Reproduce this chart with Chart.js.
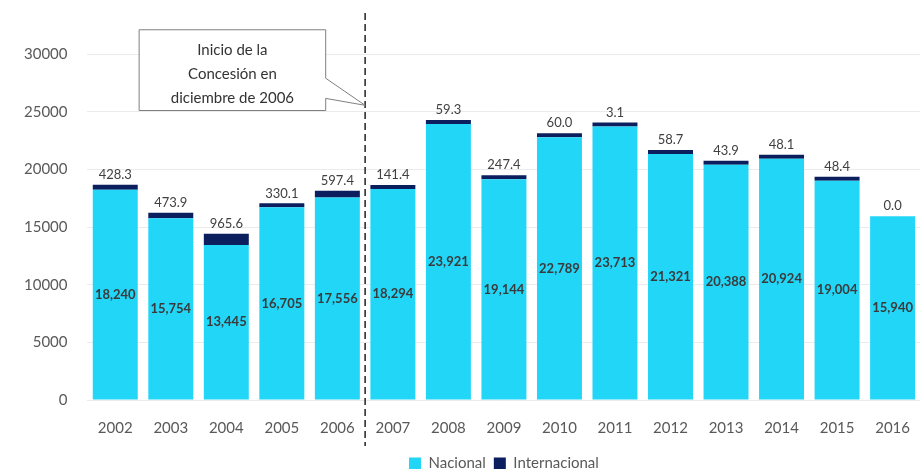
<!DOCTYPE html>
<html>
<head>
<meta charset="utf-8">
<script src="https://cdn.jsdelivr.net/npm/chart.js@4"></script>
<style>
  html, body { margin: 0; padding: 0; background: #fff; }
  #wrap { width: 921px; height: 469px; }
</style>
</head>
<body>
<div id="wrap"><canvas id="chart"></canvas></div>
<script>
/*------ DATA ------*/
const years = ["2002", "2003", "2004", "2005", "2006", "2007", "2008", "2009", "2010", "2011", "2012", "2013", "2014", "2015", "2016"];
const nacional = [18240, 15754, 13445, 16705, 17556, 18294, 23921, 19144, 22789, 23713, 21321, 20388, 20924, 19004, 15940];
const internacional = [428.3, 473.9, 965.6, 330.1, 597.4, 141.4, 59.3, 247.4, 60.0, 3.1, 58.7, 43.9, 48.1, 48.4, 0.0];
const yTicks = [0, 5000, 10000, 15000, 20000, 25000, 30000];

const noteLines = ["Inicio de la", "Concesión en", "diciembre de 2006"];
// callout box in axis units (category index / value)
const noteBox = { left: 0.43, right: 3.79, top: 32100, bottom: 25100, tipIndex: 4.5, tipValue: 25550 };

const fontFam = "Lato, 'Open Sans', sans-serif";

/*------ LABELS + ANNOTATION PLUGIN ------*/
const extras = {
  id: "extras",
  afterDatasetsDraw(chart) {
    const ctx = chart.ctx;
    const x = chart.scales.x, y = chart.scales.y;
    const area = chart.chartArea;

    // value labels
    const m0 = chart.getDatasetMeta(0);
    ctx.save();
    ctx.textAlign = "center";
    ctx.textBaseline = "middle";
    m0.data.forEach((bar, i) => {
      ctx.font = "bold 13px " + fontFam;
      ctx.fillStyle = "#3a3a3a";
      ctx.fillText(nacional[i].toLocaleString("en-US"), bar.x, (bar.y + bar.base) / 2);
      let top = y.getPixelForValue(nacional[i] + internacional[i]);
      if (internacional[i] > 0) top = Math.min(top, bar.y - 4);
      ctx.font = "13px " + fontFam;
      ctx.fillStyle = "#404040";
      ctx.fillText(internacional[i].toFixed(1), bar.x, top - 10);
    });
    ctx.restore();

    // dashed vertical line between 2006 and 2007
    const lx = x.getPixelForValue(noteBox.tipIndex);
    ctx.save();
    ctx.strokeStyle = "#222";
    ctx.lineWidth = 1.5;
    ctx.setLineDash([7, 4]);
    ctx.beginPath();
    ctx.moveTo(lx, area.top - 41);
    ctx.lineTo(lx, area.bottom + 46);
    ctx.stroke();
    ctx.restore();

    // callout box
    const bl = x.getPixelForValue(noteBox.left), br = x.getPixelForValue(noteBox.right);
    const bt = y.getPixelForValue(noteBox.top), bb = y.getPixelForValue(noteBox.bottom);
    const tx = lx, ty = y.getPixelForValue(noteBox.tipValue);
    const h = bb - bt;
    ctx.save();
    ctx.strokeStyle = "#7f7f7f";
    ctx.lineWidth = 1;
    ctx.fillStyle = "#fff";
    ctx.beginPath();
    ctx.moveTo(bl, bt);
    ctx.lineTo(br, bt);
    ctx.lineTo(br, bt + h * 0.6);
    ctx.lineTo(tx, ty);
    ctx.lineTo(br, bt + h * 0.85);
    ctx.lineTo(br, bb);
    ctx.lineTo(bl, bb);
    ctx.closePath();
    ctx.fill();
    ctx.stroke();
    ctx.fillStyle = "#333";
    ctx.font = "15px " + fontFam;
    ctx.textAlign = "center";
    ctx.textBaseline = "middle";
    const cx = (bl + br) / 2;
    noteLines.forEach((t, i) => {
      ctx.fillText(t, cx, bt + h * (0.25 + i * 0.3));
    });
    ctx.restore();
  }
};

/*------ CHART ------*/
const chartCtx = document.querySelector("#chart").getContext("2d");

new Chart(chartCtx, {
  type: "bar",
  data: {
    labels: years,
    datasets: [
      {
        label: "Nacional",
        data: nacional,
        backgroundColor: "#22d6f8",
        borderWidth: 0,
        barPercentage: 1,
        categoryPercentage: 0.81,
      },
      {
        label: "Internacional",
        // zero values drawn as no bar (label still shown)
        data: internacional.map(v => (v > 0 ? v : null)),
        backgroundColor: "#0b1f5e",
        borderWidth: 0,
        minBarLength: 4,
        barPercentage: 1,
        categoryPercentage: 0.81,
      },
    ],
  },
  options: {
    responsive: true,
    maintainAspectRatio: false,
    animation: false,
    layout: {
      padding: { top: 54, right: 0, left: 4, bottom: -12 }
    },
    plugins: {
      legend: {
        position: "bottom",
        fullSize: false,
        labels: {
          boxWidth: 12,
          boxHeight: 12,
          padding: 8,
          color: "#595959",
          font: { family: fontFam, size: 15 }
        }
      },
      tooltip: { enabled: false }
    },
    scales: {
      x: {
        stacked: true,
        grid: { display: false },
        border: { display: false },
        afterFit(scale) {
          scale.height = 48;
        },
        ticks: {
          color: "#595959",
          padding: 11,
          font: { family: fontFam, size: 15 }
        }
      },
      y: {
        stacked: true,
        min: 0,
        max: 30000,
        afterBuildTicks(scale) {
          scale.ticks = yTicks.map(v => ({ value: v }));
        },
        grid: { color: "#ebebeb", drawTicks: false },
        border: { display: false },
        ticks: {
          color: "#595959",
          padding: 20,
          font: { family: fontFam, size: 15 },
          callback: v => String(v)
        }
      }
    }
  },
  plugins: [extras]
});
</script>
</body>
</html>
